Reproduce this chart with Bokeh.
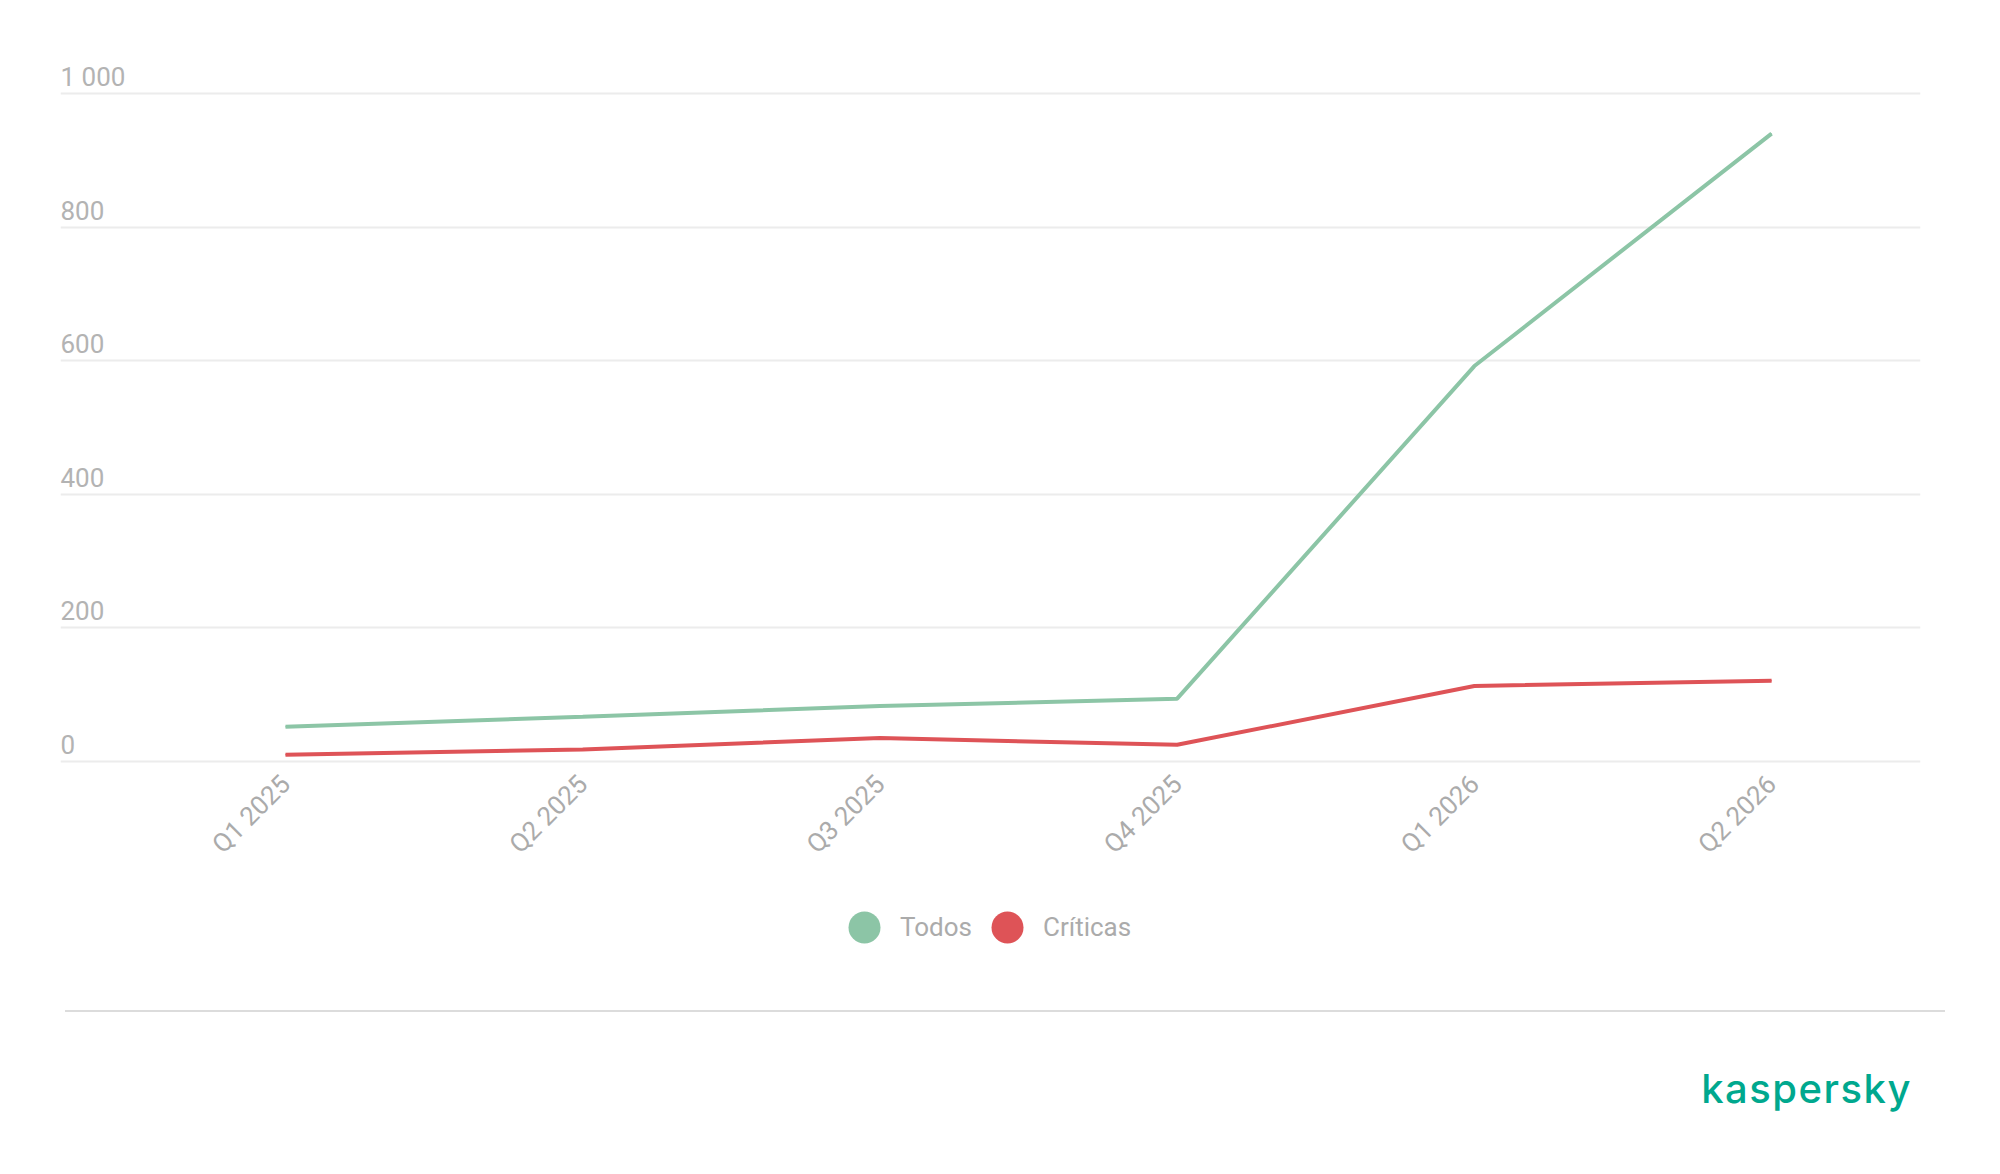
from math import pi
from bokeh.plotting import figure
from bokeh.models import ColumnDataSource, Range1d, FixedTicker, Legend, LegendItem, Div
from bokeh.layouts import column
from bokeh.core.properties import value
from bokeh.embed import file_html
from bokeh.resources import INLINE

# ---- data ----
quarters = ["Q1 2025", "Q2 2025", "Q3 2025", "Q4 2025", "Q1 2026", "Q2 2026"]
todos = [52, 67, 83, 94, 592, 940]
criticas = [10, 18, 35, 25, 113, 121]
y_ticks = [0, 200, 400, 600, 800, 1000]
y_tick_labels = ["0", "200", "400", "600", "800", "1 000"]
series_names = ["Todos", "Críticas"]

GREEN = "#8cc5a6"
RED = "#de5357"
GRAY_TXT = "#ababab"

x_idx = list(range(len(quarters)))
X_START, X_END = -0.757, 5.501
Y_START, Y_END = -357.8, 1059.9

p = figure(width=1984, height=1000, output_backend="svg", toolbar_location=None,
           x_range=Range1d(X_START, X_END), y_range=Range1d(Y_START, Y_END),
           x_axis_location=None, y_axis_location=None,
           min_border_left=60, min_border_right=64, min_border_top=53, min_border_bottom=0)
p.outline_line_color = None
p.background_fill_color = "white"
p.border_fill_color = "white"

p.xgrid.visible = False
p.ygrid.ticker = FixedTicker(ticks=y_ticks)
p.ygrid.grid_line_color = "#ececec"
p.ygrid.grid_line_width = 2

src = ColumnDataSource(dict(x=x_idx, quarter=quarters, base=[0] * len(quarters),
                            todos=todos, criticas=criticas))
p.line("x", "todos", source=src, line_color=GREEN, line_width=4)
p.line("x", "criticas", source=src, line_color=RED, line_width=4)

# 1px ellipses hidden on the lines; used as round legend swatches
r_t = p.ellipse("x", "todos", source=src, width=1, height=1, width_units="screen",
                height_units="screen", fill_color=GREEN, line_color=None)
r_c = p.ellipse("x", "criticas", source=src, width=1, height=1, width_units="screen",
                height_units="screen", fill_color=RED, line_color=None)

# y tick labels above gridlines
ysrc = ColumnDataSource(dict(x=[X_START] * len(y_ticks), y=y_ticks, text=y_tick_labels))
p.text("x", "y", "text", source=ysrc, text_font=value("Roboto"), text_font_size=value("26px"),
       text_color="#b3b3b3", text_align="left", text_baseline="alphabetic", y_offset=-17)

# rotated category labels under the zero line
p.text("x", "base", "quarter", source=src, angle=pi / 4, text_font=value("Roboto"),
       text_font_size=value("26px"), text_color=GRAY_TXT, text_align="right",
       text_baseline="middle", y_offset=18, x_offset=0)

legend = Legend(items=[LegendItem(label=series_names[0], renderers=[r_t]),
                       LegendItem(label=series_names[1], renderers=[r_c])],
                orientation="horizontal", location=(784, 53),
                glyph_width=40, glyph_height=40, label_standoff=16, spacing=15,
                padding=0, margin=0, border_line_color=None, background_fill_alpha=0,
                label_text_font="Roboto", label_text_font_size="26px",
                label_text_color=GRAY_TXT)
p.add_layout(legend, "center")

footer = Div(width=1984, height=166, text="""
<div style="position:relative;width:1984px;height:166px;">
  <div style="position:absolute;left:60px;top:5px;width:1880px;height:2px;background:#dcdcdc;"></div>
  <div style="position:absolute;right:77px;top:64px;font-family:'Inter';font-size:40px;line-height:40px;
              letter-spacing:1.5px;color:#00a88e;font-weight:500;">kaspersky</div>
</div>
""")

layout = column(p, footer)
open("out.html", "w").write(file_html(layout, INLINE))
